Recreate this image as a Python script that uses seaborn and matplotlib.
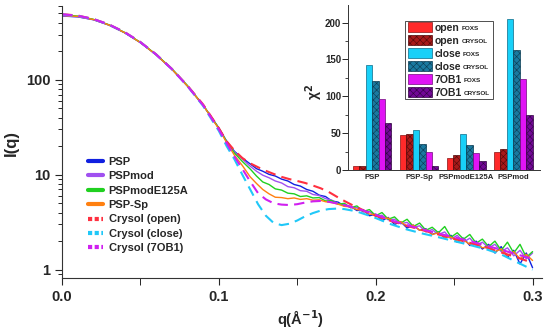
import matplotlib
matplotlib.use("Agg")
import matplotlib.pyplot as plt
from matplotlib.lines import Line2D
from matplotlib.patches import Patch, Rectangle
from matplotlib.transforms import Bbox
from matplotlib.ticker import LogLocator, NullFormatter, MultipleLocator
import seaborn as sns
import pandas as pd

# SAXS profiles (experimental)
q_exp = [0, 0.01, 0.02, 0.03, 0.04, 0.05, 0.06, 0.07, 0.08, 0.09, 0.10, 0.105, 0.11, 0.115,
         0.120, 0.124, 0.128, 0.132, 0.136, 0.140, 0.144, 0.148, 0.152, 0.156,
         0.160, 0.164, 0.168, 0.172, 0.176, 0.180, 0.184, 0.188, 0.192, 0.196,
         0.200, 0.204, 0.208, 0.212, 0.216, 0.220, 0.224, 0.228, 0.232, 0.236,
         0.240, 0.244, 0.248, 0.252, 0.256, 0.260, 0.264, 0.268, 0.272, 0.276,
         0.280, 0.284, 0.288, 0.292, 0.296, 0.300]
psp = [470, 461, 430, 377, 313, 247, 184, 130, 86, 54, 31, 22.5, 17.6, 15.0,
       13.0, 11.6, 10.9, 10.1, 9.7, 9.0, 8.6, 7.9, 7.6, 7.0,
       6.7, 6.1, 5.9, 5.3, 5.15, 4.7, 4.65, 4.2, 4.3, 3.7,
       3.85, 3.3, 3.55, 3.0, 3.2, 2.75, 2.95, 2.6, 2.7, 2.35,
       2.5, 2.15, 2.3, 1.95, 2.15, 1.8, 2.0, 1.65, 1.85, 1.5,
       1.75, 1.35, 1.6, 1.15, 1.5, 1.05]
pspmod = [472, 463, 431, 378, 314, 247, 184, 130, 86, 54, 31, 22.4, 17.3, 14.6,
          12.3, 10.9, 9.9, 9.3, 8.6, 8.2, 7.5, 7.3, 6.8, 6.7,
          6.2, 6.05, 5.6, 5.4, 4.95, 4.9, 4.5, 4.5, 4.05, 4.1,
          3.65, 3.75, 3.35, 3.4, 3.05, 3.15, 2.8, 2.9, 2.5, 2.65,
          2.35, 2.5, 2.1, 2.3, 1.95, 2.15, 1.8, 1.95, 1.7, 1.85,
          1.55, 1.7, 1.4, 1.6, 1.3, 1.5]
pspmod_e125a = [485, 470, 434, 380, 315, 248, 185, 131, 87, 54, 31, 22.3, 16.9, 13.8,
                11.5, 9.7, 8.4, 7.9, 7.1, 6.9, 6.4, 6.3, 5.9, 6.0,
                5.7, 5.75, 5.3, 5.35, 4.9, 5.0, 4.5, 4.7, 4.1, 4.3,
                3.7, 4.0, 3.4, 3.6, 3.1, 3.4, 2.85, 3.1, 2.6, 2.8,
                2.45, 2.85, 2.2, 2.45, 2.1, 2.35, 1.9, 2.1, 1.75, 2.0,
                1.6, 1.95, 1.5, 1.85, 1.35, 1.55]
psp_sp = [478, 466, 432, 378, 314, 247, 184, 130, 86, 54, 30.5, 21.8, 16.0, 12.5,
          9.5, 8.1, 7.0, 6.3, 5.8, 5.75, 5.6, 5.7, 5.5, 5.6,
          5.4, 5.45, 5.2, 5.1, 4.9, 4.65, 4.6, 4.3, 4.2, 3.85,
          3.8, 3.45, 3.5, 3.15, 3.2, 2.85, 2.95, 2.6, 2.65, 2.35,
          2.45, 2.2, 2.2, 2.0, 2.05, 1.85, 1.9, 1.7, 1.75, 1.55,
          1.65, 1.4, 1.55, 1.3, 1.45, 1.25]

# Crysol fits
q_fit = [0, 0.01, 0.02, 0.03, 0.04, 0.05, 0.06, 0.07, 0.08, 0.09, 0.10,
         0.105, 0.11, 0.115, 0.12, 0.125, 0.13, 0.135, 0.14, 0.145, 0.15,
         0.155, 0.16, 0.165, 0.17, 0.175, 0.18, 0.185, 0.19, 0.195, 0.20,
         0.21, 0.22, 0.23, 0.24, 0.25, 0.26, 0.27, 0.28, 0.29, 0.30]
crysol_open = [492, 476, 438, 383, 318, 250, 186, 131, 87, 55, 31,
               22.5, 18, 15, 13.2, 12, 11, 10.2, 9.5, 9.0, 8.6,
               8.2, 7.7, 7.2, 6.6, 5.9, 5.3, 4.8, 4.4, 4.0, 3.7,
               3.25, 2.9, 2.6, 2.35, 2.12, 1.92, 1.72, 1.52, 1.35, 1.18]
crysol_close = [488, 472, 436, 381, 316, 249, 185, 130, 86, 53, 29,
                20, 14.5, 10, 7, 4.9, 3.7, 3.1, 2.95, 3.05, 3.3,
                3.65, 3.95, 4.2, 4.35, 4.4, 4.35, 4.2, 4.0, 3.75, 3.5,
                3.0, 2.65, 2.4, 2.2, 2.0, 1.82, 1.65, 1.45, 1.2, 1.0]
crysol_7ob1 = [490, 474, 437, 382, 317, 249, 185, 130, 86, 54, 30,
               21.5, 15.5, 11.5, 8.5, 6.4, 5.5, 5.0, 4.85, 4.8, 4.9,
               5.1, 5.25, 5.3, 5.2, 5.0, 4.8, 4.55, 4.3, 4.05, 3.8,
               3.3, 2.95, 2.65, 2.4, 2.2, 2.0, 1.8, 1.62, 1.45, 1.3]

# chi2 values (inset)
constructs = ["PSP", "PSP-Sp", "PSPmodE125A", "PSPmod"]
models = ["open FOXS", "open CRYSOL", "close FOXS", "close CRYSOL", "7OB1 FOXS", "7OB1 CRYSOL"]
chi_open_foxs = [6, 47, 16, 25]
chi_open_crysol = [6, 49, 21, 29]
chi_close_foxs = [143, 54, 49, 205]
chi_close_crysol = [121, 35, 34, 163]
chi_7ob1_foxs = [97, 24, 23, 123]
chi_7ob1_crysol = [64, 6, 12, 74]

sns.set_style("ticks")
plt.rcParams["font.family"] = ["Liberation Sans", "DejaVu Sans"]
plt.rcParams["font.weight"] = "bold"
plt.rcParams["hatch.linewidth"] = 0.4

fig = plt.figure(figsize=(5.5, 3.32), dpi=100)
ax = fig.add_axes([0.1127, 0.163, 0.8727, 0.819])

exp_series = [("PSP", psp, "#1020e0"), ("PSPmod", pspmod, "#a050f0"),
              ("PSPmodE125A", pspmod_e125a, "#20d020"), ("PSP-Sp", psp_sp, "#ff8010")]
fit_series = [("Crysol (open)", crysol_open, "#ff3040"),
              ("Crysol (close)", crysol_close, "#20c8f8"),
              ("Crysol (7OB1)", crysol_7ob1, "#d020f0")]

for name, vals, col in exp_series:
    sns.lineplot(x=q_exp, y=vals, ax=ax, color=col, linewidth=1.0)
for name, vals, col in fit_series:
    sns.lineplot(x=q_fit, y=vals, ax=ax, color=col, linewidth=1.5, linestyle=(0, (5, 3)))

ax.set_yscale("log")
ax.set_xlim(0, 0.306)
ax.set_ylim(0.82, 600)
ax.xaxis.set_major_locator(MultipleLocator(0.1))
ax.xaxis.set_minor_locator(MultipleLocator(0.05))
ax.xaxis.set_major_formatter(plt.FuncFormatter(lambda v, p: f"{v:.1f}"))
ax.yaxis.set_major_locator(LogLocator(base=10))
ax.yaxis.set_minor_locator(LogLocator(base=10, subs=range(2, 10)))
ax.yaxis.set_minor_formatter(NullFormatter())
ax.yaxis.set_major_formatter(plt.FuncFormatter(lambda v, p: f"{v:g}"))
ax.tick_params(axis="both", which="major", labelsize=10.5, length=5, width=0.8, direction="out")
ax.tick_params(axis="both", which="minor", length=3, width=0.7, direction="out")
ax.tick_params(axis="x", which="minor", length=5)
sns.despine(ax=ax)
for s in ["left", "bottom"]:
    ax.spines[s].set_linewidth(0.8)
    ax.spines[s].set_color("#333333")
ax.set_xlabel("q(Å$^{\\mathbf{-1}}$)", fontsize=10.5, fontweight="bold")
ax.set_ylabel("I(q)", fontsize=12, fontweight="bold")
ax.xaxis.set_label_coords(0.496, -0.112)
ax.yaxis.set_label_coords(-0.09, 0.496)

handles = [Line2D([], [], color=c, lw=3) for _, _, c in exp_series]
handles += [Line2D([], [], color=c, lw=3, linestyle=(0, (1, 0.6))) for _, _, c in fit_series]
labels = [n for n, _, _ in exp_series] + [n for n, _, _ in fit_series]
leg = ax.legend(handles, labels, loc="upper left", bbox_to_anchor=(0.045, 0.462),
                frameon=False, fontsize=8, handlelength=1.35, handletextpad=0.5,
                labelspacing=0.4, borderaxespad=0)
for t in leg.get_texts():
    t.set_fontweight("bold")

# inset bar chart
ins = fig.add_axes([0.633, 0.488, 0.349, 0.497])
chi_df = pd.DataFrame({
    "construct": constructs * 6,
    "model": [m for m in models for _ in constructs],
    "chi2": chi_open_foxs + chi_open_crysol + chi_close_foxs + chi_close_crysol
            + chi_7ob1_foxs + chi_7ob1_crysol,
})
bar_colors = ["#ff2a2a", "#a81a1a", "#18d0f8", "#1a7aa0", "#e014f4", "#720896"]
edge_colors = ["#8a1010", "#500808", "#0a6a88", "#0a3a50", "#700a7a", "#300440"]
hatches = [None, "xxxxx", None, "xxxxx", None, "xxxxx"]
sns.barplot(data=chi_df, x="construct", y="chi2", hue="model", hue_order=models,
            order=constructs, palette=bar_colors, width=0.82, ax=ins, legend=False,
            saturation=1)
for cont, ec, h in zip(ins.containers, edge_colors, hatches):
    for p in cont:
        p.set_edgecolor(ec)
        p.set_linewidth(0.5)
        if h:
            p.set_hatch(h)
ins.set_xlim(-0.51, 3.57)
ins.set_ylim(0, 224)
ins.yaxis.set_major_locator(MultipleLocator(50))
ins.yaxis.set_minor_locator(MultipleLocator(25))
ins.tick_params(axis="y", which="major", labelsize=7, length=4, width=0.7, pad=1)
ins.tick_params(axis="y", which="minor", length=2.5, width=0.6)
ins.tick_params(axis="x", labelsize=5.6, length=0, pad=3)
ins.set_xlabel("")
ins.set_ylabel("χ$^2$", fontsize=10, fontweight="bold")
ins.yaxis.set_label_coords(-0.12, 0.47)
ins.patch.set_alpha(0)
sns.despine(ax=ins)
for s in ["left", "bottom"]:
    ins.spines[s].set_linewidth(0.7)
    ins.spines[s].set_color("#333333")

patches = [Patch(facecolor=c, edgecolor=e, linewidth=0.5, hatch=h)
           for c, e, h in zip(bar_colors, edge_colors, hatches)]
words = [m.split(" ")[0] for m in models]
ileg = ins.legend(patches, words, loc="upper left", bbox_to_anchor=(0.3, 0.91),
                  fontsize=7.5, handlelength=2.3, handleheight=1.15, handletextpad=0.3,
                  labelspacing=0.22, borderpad=0.2, borderaxespad=0, frameon=False)
fig.canvas.draw()
extras = []
for t, m in zip(ileg.get_texts(), models):
    t.set_fontweight("bold")
    extras.append(ins.annotate(m.split(" ")[1], xy=(1, 0), xycoords=t, xytext=(1.2, 1.6),
                               textcoords="offset points", fontsize=4.6, fontweight="bold",
                               va="baseline", ha="left"))
fig.canvas.draw()
r = fig.canvas.get_renderer()
bb = Bbox.union([ileg.get_window_extent(r)] + [e.get_window_extent(r) for e in extras])
x0, y0 = fig.transFigure.inverted().transform((bb.x0 - 1, bb.y0 + 1))
x1, y1 = fig.transFigure.inverted().transform((bb.x1 + 3, bb.y1 - 1))
fig.add_artist(Rectangle((x0, y0), x1 - x0, y1 - y0, transform=fig.transFigure,
                         fill=False, edgecolor="#333333", linewidth=0.6))

fig.savefig("out.png", dpi=100)
